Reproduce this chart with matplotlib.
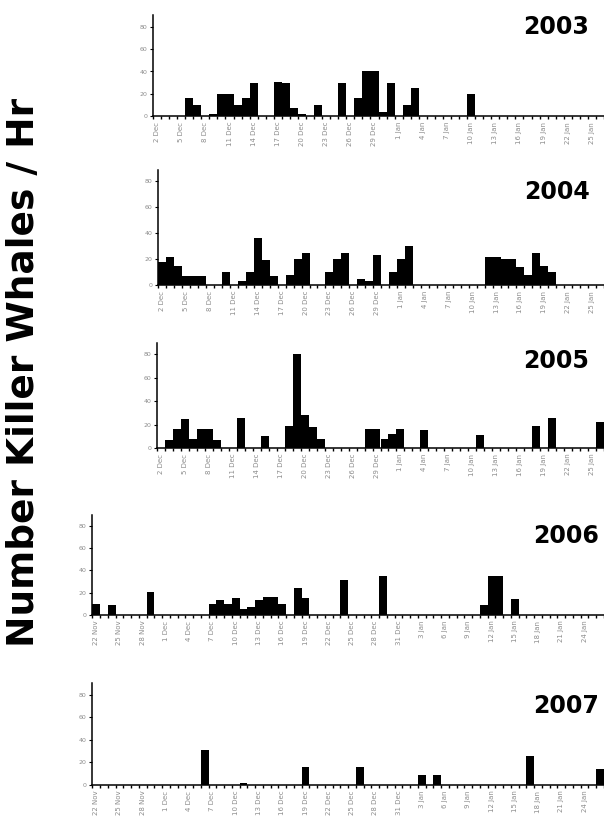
import matplotlib
matplotlib.use("Agg")
import matplotlib.pyplot as plt
import numpy as np
import pandas as pd

# killer whales per hour, one value per day of the season
years = ["2003", "2004", "2005", "2006", "2007"]
season_start = ["2003-12-02", "2004-12-02", "2005-12-02", "2006-11-22", "2007-11-22"]

whales_2003 = [0, 0, 0, 0, 16, 10, 0, 2, 20, 20, 10, 16, 30, 0, 0, 31, 30, 7, 2, 0,
               10, 0, 0, 30, 0, 16, 40, 40, 4, 30, 0, 10, 25, 0, 0, 0, 0, 0, 0, 20,
               0, 0, 0, 0, 0, 0, 0, 0, 0, 0, 0, 0, 0, 0, 0, 0]
whales_2004 = [18, 22, 15, 7, 7, 7, 0, 0, 10, 0, 3, 10, 36, 19, 7, 0, 8, 20, 25, 0,
               0, 10, 20, 25, 0, 5, 3, 23, 0, 10, 20, 30, 0, 0, 0, 0, 0, 0, 0, 0,
               0, 22, 22, 20, 20, 14, 8, 25, 15, 10, 0, 0, 0, 0, 0, 0]
whales_2005 = [0, 7, 16, 25, 8, 16, 16, 7, 0, 0, 26, 0, 0, 10, 0, 0, 19, 80, 28, 18,
               8, 0, 0, 0, 0, 0, 16, 16, 8, 12, 16, 0, 0, 15, 0, 0, 0, 0, 0, 0,
               11, 0, 0, 0, 0, 0, 0, 19, 0, 26, 0, 0, 0, 0, 0, 22]
whales_2006 = [10, 0, 9, 0, 0, 0, 0, 21, 0, 0, 0, 0, 0, 0, 0, 10, 13, 10, 15, 5,
               7, 13, 16, 16, 10, 0, 24, 15, 0, 0, 0, 0, 31, 0, 0, 0, 0, 35, 0, 0,
               0, 0, 0, 0, 0, 0, 0, 0, 0, 0, 9, 35, 35, 0, 14, 0, 0, 0, 0, 0,
               0, 0, 0, 0, 0, 0]
whales_2007 = [0, 0, 0, 0, 0, 0, 0, 0, 0, 0, 0, 0, 0, 0, 31, 0, 0, 0, 0, 2,
               0, 0, 0, 0, 0, 0, 0, 16, 0, 0, 0, 0, 0, 0, 16, 0, 0, 0, 0, 0,
               0, 0, 9, 0, 9, 0, 0, 0, 0, 0, 0, 0, 0, 0, 0, 0, 26, 0, 0, 0,
               0, 0, 0, 0, 0, 14]
series = [whales_2003, whales_2004, whales_2005, whales_2006, whales_2007]

W, H = 604, 830
# panel placement in pixels: y-axis x, px per day, baseline y, px per unit, ymax
layout = [
    (153.0, 8.10, 116.3, 1.120, 90),
    (158.3, 8.00, 285.3, 1.3075, 88),
    (157.0, 8.00, 448.0, 1.171, 90),
    (92.3, 7.76, 615.0, 1.116, 90),
    (92.3, 7.76, 785.0, 1.129, 90),
]
title_pos = [(556, 27), (557, 192), (556, 361), (566, 536), (566, 706)]

fig = plt.figure(figsize=(W / 100, H / 100), dpi=100)
grey = "#8c8c8c"

for yr, start, vals, (x0, step, base, unit, ymax), (tx, ty) in zip(
        years, season_start, series, layout, title_pos):
    n = len(vals)
    days = pd.date_range(start, periods=n, freq="D")
    labels = [f"{d.day} {d.strftime('%b')}" for d in days]
    h = ymax * unit
    ax = fig.add_axes([x0 / W, 1 - base / H, (W - x0) / W, h / H])
    ax.bar(np.arange(n), vals, width=1.0, color="black", linewidth=0)
    ax.set_xlim(-0.5, (W - x0) / step - 0.5)
    ax.set_ylim(0, ymax)
    for s in ["top", "right"]:
        ax.spines[s].set_visible(False)
    for s in ["left", "bottom"]:
        ax.spines[s].set_linewidth(1.1)
    ax.set_yticks([0, 20, 40, 60, 80])
    ax.tick_params(axis="y", labelsize=4.5, labelcolor=grey, length=2, width=0.8, pad=2)
    ax.set_xticks(np.arange(0, n, 3))
    ax.set_xticklabels(labels[::3], rotation=90, fontsize=5, color=grey)
    ax.set_xticks(np.arange(-0.5, n, 1), minor=True)
    ax.tick_params(axis="x", which="major", length=0, pad=4)
    ax.tick_params(axis="x", which="minor", length=2.5, width=1.0)
    fig.text(tx / W, 1 - ty / H, yr, fontsize=17, fontweight="bold",
             ha="center", va="center")

fig.text(24 / W, 1 - 372 / H, "Number Killer Whales / Hr", rotation=90,
         fontsize=27, fontweight="bold", ha="center", va="center")

fig.savefig("out.png", dpi=100)
